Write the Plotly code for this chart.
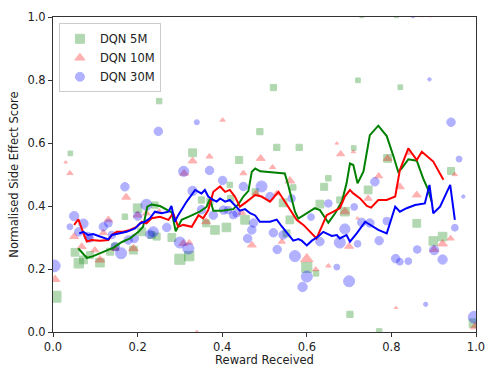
import plotly.graph_objects as go

# ---- scatter data: (reward received, normalised side effect score, marker size) ----
dqn5_x = [0.006, 0.041, 0.052, 0.061, 0.072, 0.087, 0.111, 0.135, 0.147, 0.170, 0.200, 0.190,
          0.210, 0.233, 0.245, 0.241, 0.251, 0.281, 0.300, 0.322, 0.330, 0.351, 0.362, 0.371,
          0.383, 0.410, 0.418, 0.420, 0.440, 0.454, 0.478, 0.489, 0.521, 0.529, 0.544, 0.552,
          0.560, 0.568, 0.582, 0.600, 0.622, 0.631, 0.641, 0.651, 0.678, 0.690, 0.702, 0.711,
          0.721, 0.745, 0.771, 0.791, 0.821, 0.860, 0.899, 0.921, 0.941, 0.994, 0.730, 0.812]
dqn5_y = [0.112, 0.567, 0.253, 0.218, 0.229, 0.244, 0.220, 0.255, 0.271, 0.366, 0.393, 0.260,
          0.318, 0.308, 0.303, 0.403, 0.733, 0.300, 0.231, 0.241, 0.569, 0.419, 0.345, 0.414,
          0.324, 0.332, 0.467, 0.424, 0.546, 0.356, 0.445, 0.636, 0.776, 0.586, 0.410, 0.313,
          0.356, 0.459, 0.586, 0.205, 0.186, 0.406, 0.461, 0.488, 0.419, 0.382, 0.056, 0.584,
          0.799, 0.451, 0.002, 0.551, 0.777, 0.345, 0.289, 0.303, 0.511, 0.028, 1.004, 1.004]
dqn5_s = [14, 6, 10, 12, 10, 9, 11, 9, 9, 7, 11, 10,
          10, 9, 9, 8, 7, 10, 13, 12, 10, 8, 9, 8,
          11, 11, 7, 8, 9, 11, 8, 8, 8, 8, 10, 9,
          10, 7, 8, 13, 7, 10, 9, 7, 8, 11, 8, 6,
          6, 10, 7, 10, 6, 10, 11, 11, 9, 11, 5, 5]

dqn10_x = [0.005, 0.030, 0.040, 0.050, 0.068, 0.099, 0.111, 0.119, 0.131, 0.147, 0.173, 0.190,
           0.200, 0.221, 0.251, 0.308, 0.310, 0.322, 0.330, 0.340, 0.362, 0.370, 0.401, 0.446,
           0.450, 0.470, 0.480, 0.491, 0.519, 0.529, 0.541, 0.560, 0.600, 0.621, 0.651, 0.671,
           0.680, 0.690, 0.700, 0.710, 0.720, 0.745, 0.770, 0.791, 0.811, 0.820, 0.840, 0.860,
           0.901, 0.921, 0.940, 0.950, 0.998, 0.871, 0.891]
dqn10_y = [0.167, 0.539, 0.504, 0.303, 0.271, 0.260, 0.229, 0.315, 0.356, 0.265, 0.428, 0.265,
           0.371, 0.377, 0.382, 0.281, 0.504, 0.284, 0.543, 0.001, 0.350, 0.557, 0.673, 0.379,
           0.504, 0.276, 0.440, 0.551, 0.523, 0.440, 0.287, 0.480, 0.232, 0.199, 0.210, 0.599,
           0.565, 0.382, 0.272, 0.572, 0.361, 0.424, 0.495, 0.551, 0.077, 0.461, 0.567, 0.435,
           0.262, 0.280, 0.297, 0.500, 0.017, 1.004, 1.004]
dqn10_s = [11, 4, 7, 10, 10, 9, 11, 9, 10, 9, 10, 11,
           10, 9, 8, 10, 10, 8, 10, 4, 10, 8, 6, 9,
           8, 10, 9, 10, 7, 8, 8, 11, 14, 7, 6, 4,
           9, 11, 10, 5, 4, 9, 9, 10, 4, 10, 5, 10,
           10, 11, 8, 6, 11, 5, 5]

dqn30_x = [0.003, 0.040, 0.050, 0.061, 0.072, 0.083, 0.087, 0.119, 0.131, 0.139, 0.147, 0.161,
           0.170, 0.178, 0.192, 0.200, 0.221, 0.229, 0.237, 0.249, 0.269, 0.300, 0.309, 0.320,
           0.330, 0.340, 0.351, 0.370, 0.379, 0.401, 0.403, 0.414, 0.426, 0.434, 0.450, 0.460,
           0.470, 0.474, 0.493, 0.513, 0.521, 0.530, 0.544, 0.564, 0.572, 0.590, 0.600, 0.610,
           0.631, 0.651, 0.671, 0.678, 0.690, 0.700, 0.712, 0.720, 0.730, 0.749, 0.761, 0.771,
           0.789, 0.810, 0.820, 0.840, 0.861, 0.881, 0.890, 0.901, 0.921, 0.941, 0.950, 0.960,
           0.970, 0.996, 0.851]
dqn30_y = [0.210, 0.334, 0.368, 0.318, 0.344, 0.303, 0.297, 0.334, 0.345, 0.308, 0.271, 0.250,
           0.461, 0.292, 0.297, 0.368, 0.404, 0.310, 0.318, 0.637, 0.332, 0.284, 0.510, 0.265,
           0.448, 0.666, 0.388, 0.513, 0.371, 0.481, 0.387, 0.387, 0.371, 0.377, 0.462, 0.297,
           0.324, 0.346, 0.462, 0.430, 0.315, 0.262, 0.308, 0.424, 0.241, 0.143, 0.176, 0.365,
           0.287, 0.408, 0.206, 0.284, 0.327, 0.161, 0.397, 0.280, 0.348, 0.346, 0.477, 0.290,
           0.352, 0.233, 0.223, 0.225, 0.262, 0.088, 0.802, 0.260, 0.230, 0.666, 0.331, 0.549,
           0.430, 0.047, 1.004]
dqn30_s = [14, 7, 11, 10, 11, 10, 9, 10, 9, 9, 10, 13,
           10, 10, 10, 10, 13, 10, 12, 10, 10, 13, 12, 13,
           11, 6, 10, 10, 10, 10, 10, 9, 9, 9, 10, 10,
           10, 10, 13, 10, 10, 10, 10, 9, 13, 11, 13, 8,
           10, 9, 7, 13, 12, 13, 8, 8, 10, 10, 10, 10,
           9, 10, 8, 8, 9, 5, 4, 11, 11, 10, 8, 7,
           4, 14, 5]

# ---- running-average curves ----
avg5_x = [0.060, 0.080, 0.095, 0.119, 0.143, 0.162, 0.182, 0.202, 0.213, 0.223, 0.233, 0.253,
          0.269, 0.281, 0.290, 0.304, 0.324, 0.348, 0.363, 0.371, 0.379, 0.399, 0.426, 0.438,
          0.450, 0.462, 0.470, 0.478, 0.490, 0.521, 0.548, 0.556, 0.572, 0.580, 0.600, 0.619,
          0.631, 0.643, 0.651, 0.667, 0.683, 0.694, 0.702, 0.710, 0.720, 0.734, 0.749, 0.769,
          0.789, 0.805, 0.816, 0.824, 0.840, 0.860, 0.875, 0.887, 0.895]
avg5_y = [0.265, 0.235, 0.241, 0.255, 0.268, 0.285, 0.297, 0.318, 0.334, 0.398, 0.405, 0.400,
          0.388, 0.380, 0.320, 0.356, 0.368, 0.383, 0.397, 0.422, 0.385, 0.385, 0.390, 0.405,
          0.430, 0.448, 0.509, 0.519, 0.510, 0.507, 0.503, 0.467, 0.382, 0.360, 0.377, 0.393,
          0.387, 0.361, 0.347, 0.377, 0.414, 0.472, 0.535, 0.530, 0.472, 0.510, 0.625, 0.655,
          0.622, 0.557, 0.509, 0.519, 0.548, 0.544, 0.488, 0.451, 0.414]

avg10_x = [0.050, 0.060, 0.072, 0.080, 0.091, 0.111, 0.131, 0.139, 0.151, 0.166, 0.182, 0.198,
           0.210, 0.221, 0.233, 0.253, 0.273, 0.284, 0.296, 0.308, 0.328, 0.344, 0.355, 0.367,
           0.379, 0.395, 0.407, 0.418, 0.430, 0.442, 0.458, 0.478, 0.493, 0.513, 0.533, 0.548,
           0.564, 0.576, 0.592, 0.608, 0.623, 0.635, 0.647, 0.663, 0.678, 0.690, 0.702, 0.710,
           0.726, 0.742, 0.752, 0.769, 0.789, 0.809, 0.820, 0.840, 0.860, 0.872, 0.899, 0.923]
avg10_y = [0.340, 0.358, 0.313, 0.287, 0.292, 0.290, 0.292, 0.308, 0.318, 0.318, 0.324, 0.334,
           0.350, 0.345, 0.361, 0.366, 0.356, 0.377, 0.334, 0.340, 0.334, 0.371, 0.361, 0.387,
           0.445, 0.462, 0.445, 0.451, 0.430, 0.398, 0.414, 0.435, 0.430, 0.414, 0.445, 0.414,
           0.382, 0.356, 0.340, 0.318, 0.297, 0.334, 0.371, 0.382, 0.393, 0.430, 0.451, 0.440,
           0.424, 0.400, 0.395, 0.419, 0.419, 0.430, 0.514, 0.583, 0.546, 0.572, 0.541, 0.483]

avg30_x = [0.062, 0.072, 0.083, 0.095, 0.111, 0.131, 0.139, 0.158, 0.174, 0.194, 0.206, 0.217,
           0.229, 0.241, 0.257, 0.273, 0.280, 0.288, 0.296, 0.316, 0.336, 0.344, 0.351, 0.359,
           0.367, 0.379, 0.387, 0.395, 0.407, 0.418, 0.430, 0.442, 0.454, 0.466, 0.478, 0.489,
           0.513, 0.529, 0.541, 0.556, 0.568, 0.580, 0.588, 0.600, 0.612, 0.627, 0.639, 0.659,
           0.671, 0.678, 0.694, 0.702, 0.718, 0.738, 0.749, 0.769, 0.789, 0.800, 0.809, 0.820,
           0.836, 0.856, 0.879, 0.890, 0.899, 0.915, 0.939, 0.950]
avg30_y = [0.313, 0.318, 0.308, 0.311, 0.303, 0.294, 0.308, 0.313, 0.318, 0.329, 0.345, 0.350,
           0.361, 0.382, 0.377, 0.382, 0.400, 0.350, 0.371, 0.414, 0.451, 0.445, 0.440, 0.451,
           0.430, 0.419, 0.414, 0.424, 0.414, 0.419, 0.403, 0.385, 0.390, 0.377, 0.370, 0.350,
           0.350, 0.357, 0.335, 0.310, 0.290, 0.295, 0.290, 0.275, 0.290, 0.303, 0.318, 0.305,
           0.308, 0.297, 0.308, 0.287, 0.313, 0.350, 0.340, 0.324, 0.313, 0.356, 0.398, 0.382,
           0.393, 0.403, 0.408, 0.467, 0.377, 0.398, 0.467, 0.356]

# (name, x, y, sizes, symbol, colour, size scale for the symbol shape)
series = [
    ("DQN 5M", dqn5_x, dqn5_y, dqn5_s, "square", "#008000", 0.78),
    ("DQN 10M", dqn10_x, dqn10_y, dqn10_s, "triangle-up", "#ff0000", 0.78),
    ("DQN 30M", dqn30_x, dqn30_y, dqn30_s, "circle", "#0000ff", 0.85),
]
curves = [
    (avg5_x, avg5_y, "#008000"),
    (avg10_x, avg10_y, "#ff0000"),
    (avg30_x, avg30_y, "#0000ff"),
]

fig = go.Figure()
for name, xs, ys, ss, sym, col, k in series:
    fig.add_trace(go.Scatter(
        x=xs, y=ys, mode="markers", name=name, legendgroup=name, showlegend=False,
        marker=dict(symbol=sym, size=[s * k for s in ss], color=col, opacity=0.3,
                    line=dict(width=1, color=col)),
    ))
for xs, ys, col in curves:
    fig.add_trace(go.Scatter(
        x=xs, y=ys, mode="lines", showlegend=False,
        line=dict(color=col, width=2),
    ))
# legend keys with a fixed symbol size
for name, xs, ys, ss, sym, col, k in series:
    fig.add_trace(go.Scatter(
        x=[None], y=[None], mode="markers", name=name, legendgroup=name,
        marker=dict(symbol=sym, size=9, color=col, opacity=0.3,
                    line=dict(width=1, color=col)),
    ))

tick_vals = [0.0, 0.2, 0.4, 0.6, 0.8, 1.0]
tick_text = ["0.0", "0.2", "0.4", "0.6", "0.8", "1.0"]
axis_common = dict(
    range=[0, 1], tickvals=tick_vals, ticktext=tick_text, automargin=False,
    showgrid=False, zeroline=False, showline=True, linecolor="#333333", linewidth=1,
    mirror=True, ticks="outside", ticklen=4, tickcolor="#333333",
    tickfont=dict(size=11.5, color="#222222"),
)

fig.update_layout(
    width=486, height=367,
    margin=dict(l=53, r=10, t=17, b=35),
    paper_bgcolor="white", plot_bgcolor="white",
    font=dict(family="DejaVu Sans", size=11.5, color="#222222"),
    xaxis=dict(title=dict(text="Reward Received", standoff=3, font=dict(size=11.5)), **axis_common),
    yaxis=dict(title=dict(text="Normalised Side Effect Score", standoff=6, font=dict(size=11.5)), **axis_common),
    legend=dict(
        x=0.014, y=0.98, xanchor="left", yanchor="top",
        bgcolor="rgba(255,255,255,0.8)", bordercolor="#cccccc", borderwidth=1,
        font=dict(size=11.5), tracegroupgap=0,
    ),
    showlegend=True,
)

fig.write_html("out.html")
